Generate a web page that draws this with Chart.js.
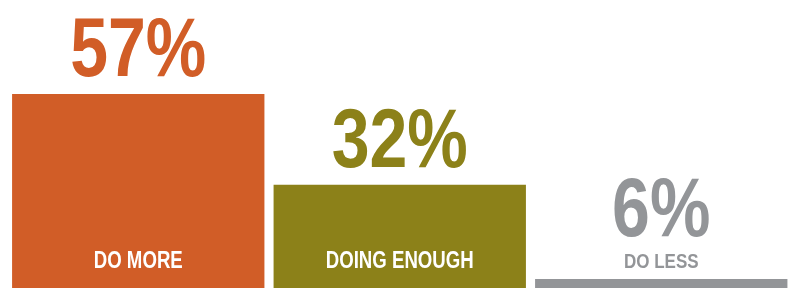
<!DOCTYPE html>
<html>
<head>
<meta charset="utf-8">
<script src="https://cdn.jsdelivr.net/npm/chart.js@4.4.0/dist/chart.umd.min.js"></script>
<style>
    html, body { margin: 0; padding: 0; background: #ffffff; }
    #wrap { width: 792px; height: 288px; }
</style>
</head>
<body>
<div id="wrap"><canvas id="answerChart" width="792" height="288"></canvas></div>
<script>
// data
var categories = ['DO MORE', 'DOING ENOUGH', 'DO LESS'];
var percents = [57, 32, 6];
var valueLabels = ['57%', '32%', '6%'];
var barColors = ['#D15D27', '#8C8119', '#939598'];

// no condensed font installed, so squeeze Liberation Sans horizontally
var squeeze = 0.81;

function drawNarrow(ctx, text, x, y, font) {
    ctx.save();
    ctx.font = font;
    ctx.translate(x, y);
    ctx.scale(squeeze, 1);
    ctx.fillText(text, 0, 0);
    ctx.restore();
}

// labels: big number over the bar, category name near the bottom
var labelPlugin = {
    id: 'barLabels',
    afterDatasetsDraw: function (chart) {
        var ctx = chart.ctx;
        var meta = chart.getDatasetMeta(0);
        var labelBase = 267.5;
        ctx.save();
        ctx.textAlign = 'center';
        ctx.textBaseline = 'alphabetic';
        meta.data.forEach(function (bar, i) {
            var inside = (chart.chartArea.bottom - bar.y) > 40;
            // category name
            ctx.fillStyle = inside ? '#ffffff' : barColors[i];
            drawNarrow(ctx, categories[i], bar.x, labelBase,
                'bold ' + (inside ? 23 : 21) + 'px "Liberation Sans", Arial, sans-serif');
            // value
            var valueBase = inside ? bar.y - 18 : labelBase - 31.5;
            ctx.fillStyle = barColors[i];
            drawNarrow(ctx, valueLabels[i], bar.x, valueBase,
                'bold 84px "Liberation Sans", Arial, sans-serif');
        });
        ctx.restore();
    }
};

var ctx = document.getElementById('answerChart').getContext('2d');
var myChart = new Chart(ctx, {
    type: 'bar',
    data: {
        labels: categories,
        datasets: [{
            data: percents,
            backgroundColor: barColors,
            borderWidth: 0,
            categoryPercentage: 1,
            barPercentage: 0.965
        }]
    },
    options: {
        responsive: false,
        animation: false,
        layout: { padding: { left: 7.5, right: 0, top: 0, bottom: 0 } },
        plugins: {
            legend: { display: false },
            tooltip: { enabled: false }
        },
        scales: {
            x: { display: false },
            y: { display: false, min: 3.52, max: 82.92 }
        }
    },
    plugins: [labelPlugin]
});
</script>
</body>
</html>
